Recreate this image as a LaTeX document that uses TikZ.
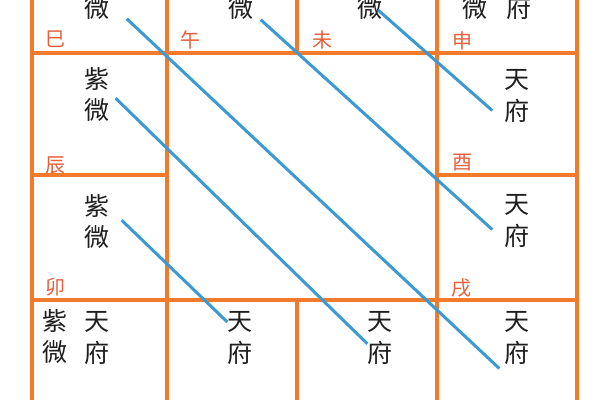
\documentclass[tikz,border=0pt]{standalone}
\usepackage{fontspec}
\newfontfamily\cjk{Noto Sans CJK SC}
\usetikzlibrary{positioning}
\definecolor{gridorange}{HTML}{F27A2C}
\definecolor{branchred}{HTML}{E5603C}
\definecolor{linkblue}{HTML}{3C9AD3}
\tikzset{
  star/.style={font=\cjk\fontsize{25}{25}\selectfont, text=black!88, inner sep=0pt},
  branch/.style={font=\cjk\fontsize{20}{20}\selectfont, text=branchred, inner sep=0pt},
  gridline/.style={gridorange, line width=3.6pt},
  link/.style={linkblue, line width=3pt}
}
\begin{document}
\begin{tikzpicture}[x=1pt,y=-1pt]
\useasboundingbox (0,0) rectangle (600,400);
\clip (0,0) rectangle (600,400);
\fill[white] (0,0) rectangle (600,400);
% grid
\draw[gridline] (32,0) -- (32,400);
\draw[gridline] (167,0) -- (167,400);
\draw[gridline] (297,0) -- (297,53);
\draw[gridline] (297,300) -- (297,400);
\draw[gridline] (437,0) -- (437,400);
\draw[gridline] (577,0) -- (577,400);
\draw[gridline] (32,53) -- (577,53);
\draw[gridline] (32,175) -- (167,175);
\draw[gridline] (437,175) -- (577,175);
\draw[gridline] (32,300) -- (577,300);
% branches
\node[branch] (si) at (55,39) {巳};
\node[branch] (wu) at (190,40) {午};
\node[branch] (wei) at (322,40) {未};
\node[branch] (shen) at (462,41) {申};
\node[branch] (chen) at (55,165) {辰};
\node[branch] (you) at (462,163) {酉};
\node[branch] (mao) at (55,287) {卯};
\node[branch] (xu) at (461,288) {戌};
% stars, top row
\node[star] (weiSi) at (97,8) {微};
\node[star] (weiWu) at (241,8) {微};
\node[star] (weiWei) at (370,8) {微};
\node[star] (weiShen) at (475,8) {微};
\node[star] (fuShen) at (519,8) {府};
% stars, sides
\node[star] (weiChen) at (97,110) {微};
\node[star, above=8pt of weiChen] (ziChen) {紫};
\node[star] (tianYou) at (517,80) {天};
\node[star, below=8pt of tianYou] (fuYou) {府};
\node[star] (weiMao) at (97,237) {微};
\node[star, above=8pt of weiMao] (ziMao) {紫};
\node[star] (tianXu) at (517,205) {天};
\node[star, below=8pt of tianXu] (fuXu) {府};
% stars, bottom row
\node[star] (weiYin) at (55,352) {微};
\node[star, above=8pt of weiYin] (ziYin) {紫};
\node[star] (tianYin) at (97,322) {天};
\node[star, below=8pt of tianYin] (fuYin) {府};
\node[star] (tianChou) at (240,322) {天};
\node[star, below=8pt of tianChou] (fuChou) {府};
\node[star] (tianZi) at (380,322) {天};
\node[star, below=8pt of tianZi] (fuZi) {府};
\node[star] (tianHai) at (517,322) {天};
\node[star, below=8pt of tianHai] (fuHai) {府};
% links
\draw[link] ([xshift=8pt,yshift=-2pt]weiWei.center) -- ([xshift=-12pt]fuYou.west);
\draw[link] ([xshift=7pt]weiWu.south east) -- ([xshift=-12pt,yshift=6pt]fuXu.west);
\draw[link] ([xshift=17pt,yshift=1pt]weiSi.south east) -- ([xshift=-5pt,yshift=-4pt]fuHai.south west);
\draw[link] ([xshift=6pt]weiChen.north east) -- ([yshift=-3pt]fuZi.north west);
\draw[link] ([xshift=12pt,yshift=-3pt]ziMao.south east) -- (tianChou.west);
\end{tikzpicture}
\end{document}
